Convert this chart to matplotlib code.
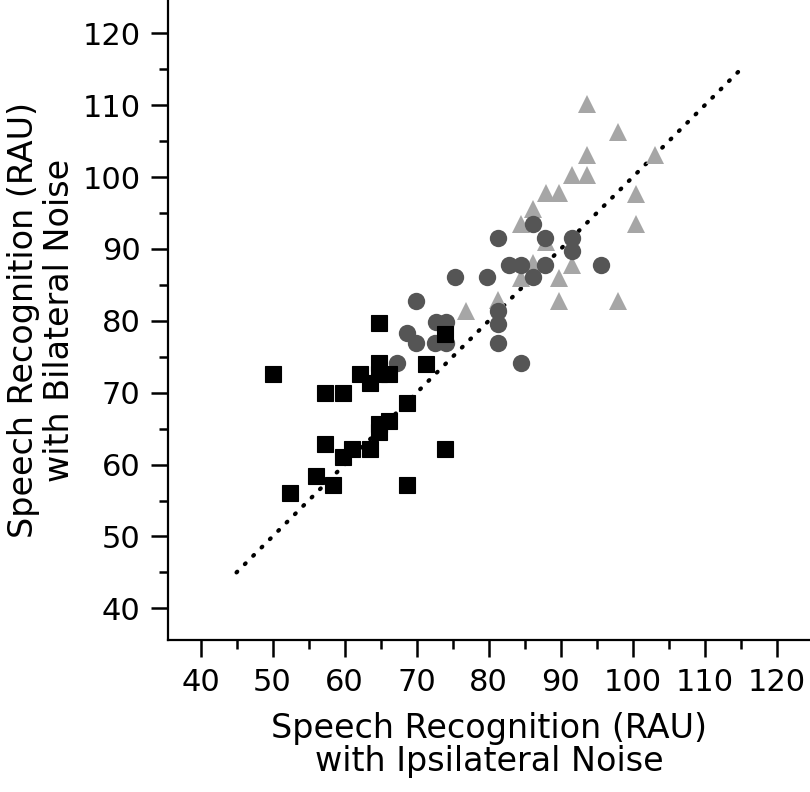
import matplotlib
matplotlib.use("Agg")
import matplotlib.pyplot as plt
from matplotlib.ticker import MultipleLocator

# Black squares
sq_x = [50.0, 57.3, 59.8, 64.8, 74.0, 62.2, 63.5, 64.8, 64.8, 66.1, 71.3, 68.6,
        64.8, 66.1, 64.8, 57.3, 61.0, 63.5, 59.8, 74.0, 56.1, 58.4, 52.4, 68.6]
sq_y = [72.6, 69.9, 69.9, 79.7, 78.2, 72.6, 71.3, 74.1, 72.6, 72.6, 74.0, 68.5,
        65.7, 66.0, 64.6, 62.9, 62.2, 62.2, 61.1, 62.2, 58.4, 57.2, 56.0, 57.2]

# Dark grey circles
ci_x = [86.1, 81.3, 87.8, 91.6, 91.6, 82.8, 84.5, 87.8, 95.6, 86.1, 75.3, 79.8,
        69.9, 81.3, 81.3, 72.7, 74.1, 68.6, 69.9, 72.6, 74.1, 81.3, 67.3, 84.5]
ci_y = [93.4, 91.5, 91.5, 91.5, 89.7, 87.8, 87.8, 87.8, 87.8, 86.1, 86.1, 86.1,
        82.8, 81.3, 79.6, 79.9, 79.9, 78.3, 76.9, 76.9, 76.9, 76.9, 74.1, 74.1]

# Light grey triangles
tr_x = [93.6, 98.0, 93.6, 103.1, 91.6, 93.6, 87.9, 89.7, 100.4, 86.1, 84.5, 100.4,
        89.7, 91.6, 84.5, 86.1, 87.9, 89.7, 97.9, 76.9, 81.3]
tr_y = [110.2, 106.2, 103.0, 103.0, 100.3, 100.3, 97.8, 97.8, 97.7, 95.5, 93.5, 93.4,
        86.0, 87.8, 86.0, 88.0, 91.0, 82.8, 82.8, 81.3, 82.9]

# Identity reference line
line_x = [45, 115]
line_y = [45, 115]

xticks = [40, 50, 60, 70, 80, 90, 100, 110, 120]
yticks = [40, 50, 60, 70, 80, 90, 100, 110, 120]

plt.rcParams['font.family'] = ['DejaVu Sans']

W, H = 810, 792
fig = plt.figure(figsize=(W / 100, H / 100), dpi=100)
ax_left, ax_bottom_px = 168.3, 640
ax = fig.add_axes([ax_left / W, 1 - ax_bottom_px / H, (W - ax_left) / W, ax_bottom_px / H])

ax.plot(line_x, line_y, color='black', lw=3.0, linestyle=(0, (0.25, 2.58)),
        dash_capstyle='round', zorder=1)
ax.plot(tr_x, tr_y, linestyle='none', marker='^', ms=13, color='#a6a6a6',
        markeredgewidth=0, zorder=2)
ax.plot(ci_x, ci_y, linestyle='none', marker='o', ms=12.5, color='#555555',
        markeredgewidth=0, zorder=3)
ax.plot(sq_x, sq_y, linestyle='none', marker='s', ms=11.5, color='black',
        markeredgewidth=0.8, markeredgecolor='black', zorder=4)

ax.set_xlim(35.53, 124.6)
ax.set_ylim(35.6, 124.63)
ax.set_xticks(xticks)
ax.set_yticks(yticks)
ax.xaxis.set_minor_locator(MultipleLocator(5))
ax.yaxis.set_minor_locator(MultipleLocator(5))

for s in ['top', 'right']:
    ax.spines[s].set_visible(False)
for s in ['left', 'bottom']:
    ax.spines[s].set_linewidth(1.6)

ax.tick_params(which='major', direction='out', length=12, width=1.8,
               labelsize=22, pad=8)
ax.tick_params(which='minor', direction='out', length=6.5, width=1.8)

ax.set_xlabel('Speech Recognition (RAU)\nwith Ipsilateral Noise', fontsize=24,
              linespacing=1.0)
ax.set_ylabel('Speech Recognition (RAU)\nwith Bilateral Noise', fontsize=24,
              linespacing=1.12)
# label anchors (axes fraction): x label top edge, y label right edge
ax.xaxis.set_label_coords(0.5, (ax_bottom_px - 712) / ax_bottom_px)
ax.yaxis.set_label_coords((76 - ax_left) / (W - ax_left), 0.5)

fig.savefig('out.png', dpi=100)
